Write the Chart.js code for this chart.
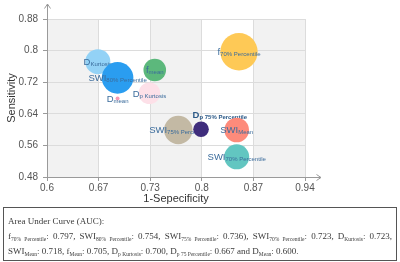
<!DOCTYPE html>
<html>
<head>
<meta charset="utf-8">
<script src="https://cdn.jsdelivr.net/npm/chart.js@4.4.1/dist/chart.umd.min.js"></script>
<style>
  body { margin: 0; background: #fff; }
  #wrap { position: relative; width: 400px; height: 262px; }
  #auc {
    position: absolute; left: 3px; top: 207px; width: 392px; height: 52px;
    border: 1px solid #555; box-sizing: content-box;
    font-family: "Liberation Serif", "Times New Roman", serif; font-size: 9px; font-weight: normal; color: #3a3a3a;
    padding: 0; line-height: 15px;
    will-change: transform; -webkit-font-smoothing: antialiased;
  }
  #auc div { padding: 0 4px; white-space: nowrap; font-weight: normal; }
  #auc div.first { margin-top: 6px; }
  #auc div.j { text-align: justify; text-align-last: justify; }
  #auc sub { font-size: 5.5px; vertical-align: -2px; line-height: 0; }
</style>
</head>
<body>
<div id="wrap">
  <canvas id="roc" width="400" height="206"></canvas>
  <div id="auc">
    <div class="first">Area Under Curve (AUC):</div>
    <div class="j">f<sub>70% Percentile</sub>: 0.797, SWI<sub>80% Percentile</sub>: 0.754, SWI<sub>75% Percentile</sub>: 0.736), SWI<sub>70% Percentile</sub>: 0.723, D<sub>Kurtosis</sub>: 0.723,</div>
    <div>SWI<sub>Mean</sub>: 0.718, f<sub>Mean</sub>: 0.705, D<sub>p Kurtosis</sub>: 0.700, D<sub>p 75 Percentile</sub>: 0.667 and D<sub>Mean</sub>: 0.600.</div>
  </div>
</div>
<script>
// one bubble per parameter, drawn in this order
var names = ['D', 'SWI', 'f', 'D', 'D', 'f', 'SWI', 'D', 'SWI', 'SWI'];
var subs = ['Kurtosis', '80% Percentile', 'mean', 'p Kurtosis', 'mean', '70% Percentile', '75% Percentile', 'p 75% Percentile', 'Mean', '70% Percentile'];
var specificity = [0.667, 0.693, 0.742, 0.735, 0.693, 0.853, 0.773, 0.803, 0.850, 0.850];
var sensitivity = [0.772, 0.731, 0.751, 0.692, 0.679, 0.797, 0.599, 0.601, 0.599, 0.531];
var bubbleR = [12.5, 15.8, 11.3, 10.8, 2, 18.7, 14.2, 7.8, 12.3, 12.5];
var colors = ['#93d2f6', '#2a9df0', '#5cb87c', '#fde0e8', '#f59ab5', '#fec956', '#c3b9a4', '#3f2d7c', '#fd8b7b', '#62c6c1'];

var xTicks = [0.6, 0.668, 0.736, 0.804, 0.872, 0.94];
var xTickLabels = ['0.6', '0.67', '0.73', '0.8', '0.87', '0.94'];
var yTicks = [0.48, 0.56, 0.64, 0.72, 0.8, 0.88];
var yTickLabels = ['0.48', '0.56', '0.64', '0.72', '0.8', '0.88'];

var labelColor = '#3b6c9c';
var font = '"Liberation Sans", Arial, sans-serif';

var datasets = names.map(function (n, i) {
    return {
        label: n + subs[i],
        data: [{x: specificity[i], y: sensitivity[i], r: bubbleR[i]}],
        backgroundColor: colors[i],
        borderWidth: 0,
        order: -i
    };
});

var bgPlugin = {
    id: 'bands',
    beforeDraw: function (chart) {
        var ctx = chart.ctx, a = chart.chartArea, x = chart.scales.x;
        ctx.save();
        ctx.fillStyle = '#f2f2f2';
        for (var i = 0; i < xTicks.length - 1; i += 2) {
            var x0 = x.getPixelForValue(xTicks[i]), x1 = x.getPixelForValue(xTicks[i + 1]);
            ctx.fillRect(x0, a.top, x1 - x0, a.bottom - a.top);
        }
        ctx.restore();
    },
    beforeDatasetsDraw: function (chart) {
        var ctx = chart.ctx, a = chart.chartArea;
        ctx.save();
        ctx.strokeStyle = '#9a9a9a';
        ctx.lineWidth = 1;
        ctx.beginPath();
        ctx.moveTo(a.left + 0.5, a.bottom + 0.5);
        ctx.lineTo(a.left + 0.5, 4);
        ctx.moveTo(a.left - 2.5, 8.5);
        ctx.lineTo(a.left + 0.5, 4);
        ctx.lineTo(a.left + 3.5, 8.5);
        ctx.moveTo(a.left, a.bottom + 0.5);
        ctx.lineTo(a.right + 16, a.bottom + 0.5);
        ctx.moveTo(a.right + 11.5, a.bottom - 2.5);
        ctx.lineTo(a.right + 16, a.bottom + 0.5);
        ctx.lineTo(a.right + 11.5, a.bottom + 3.5);
        ctx.stroke();
        ctx.restore();
    },
    afterDatasetDraw: function (chart, args) {
        var i = args.index;
        var pt = args.meta.data[0];
        var ctx = chart.ctx;
        var special = i === 7;
        var mainFont = (special ? 'bold ' : '') + '9.5px ' + font;
        var subFont = (special ? 'bold ' : '') + '6px ' + font;
        ctx.save();
        ctx.font = mainFont;
        var w1 = ctx.measureText(names[i]).width;
        ctx.font = subFont;
        var w2 = ctx.measureText(subs[i]).width;
        var sx = pt.x - (w1 + w2) / 2;
        var cy = pt.y;
        if (special) {
            sx = pt.x - 8.5;
            cy = pt.y - 15;
        }
        ctx.fillStyle = special ? '#2c5a88' : labelColor;
        ctx.textBaseline = 'alphabetic';
        ctx.font = mainFont;
        ctx.fillText(names[i], sx, cy + 3.4);
        ctx.font = subFont;
        ctx.fillText(subs[i], sx + w1, cy + 4.4);
        ctx.restore();
    }
};

var chart = new Chart(document.getElementById('roc'), {
    type: 'bubble',
    data: {datasets: datasets},
    options: {
        responsive: false,
        animation: false,
        devicePixelRatio: 1,
        layout: {padding: {top: 19, right: 95, left: 0, bottom: 0}},
        plugins: {legend: {display: false}, tooltip: {enabled: false}},
        scales: {
            x: {
                type: 'linear',
                min: 0.6,
                max: 0.94,
                afterBuildTicks: function (s) {
                    s.ticks = xTicks.map(function (v) { return {value: v}; });
                },
                afterFit: function (s) { s.height = 29; },
                ticks: {
                    padding: 1,
                    color: '#555',
                    font: {size: 10, family: font},
                    callback: function (v, idx) { return xTickLabels[idx]; }
                },
                grid: {color: '#dcdcdc', tickColor: '#9a9a9a', tickLength: 4},
                border: {display: false},
                title: {display: true, text: '1-Sepecificity', color: '#333', font: {size: 11, family: font}, padding: 0}
            },
            y: {
                type: 'linear',
                min: 0.48,
                max: 0.88,
                afterBuildTicks: function (s) {
                    s.ticks = yTicks.map(function (v) { return {value: v}; });
                },
                afterFit: function (s) { s.width = 47; },
                ticks: {
                    padding: 5,
                    color: '#555',
                    font: {size: 10, family: font},
                    callback: function (v, idx) { return yTickLabels[idx]; }
                },
                grid: {color: '#dcdcdc', tickColor: '#9a9a9a', tickLength: 4},
                border: {display: false},
                title: {display: true, text: 'Sensitivity', color: '#333', font: {size: 11, family: font}, padding: {top: 5, bottom: 0}}
            }
        }
    },
    plugins: [bgPlugin]
});
</script>
</body>
</html>
